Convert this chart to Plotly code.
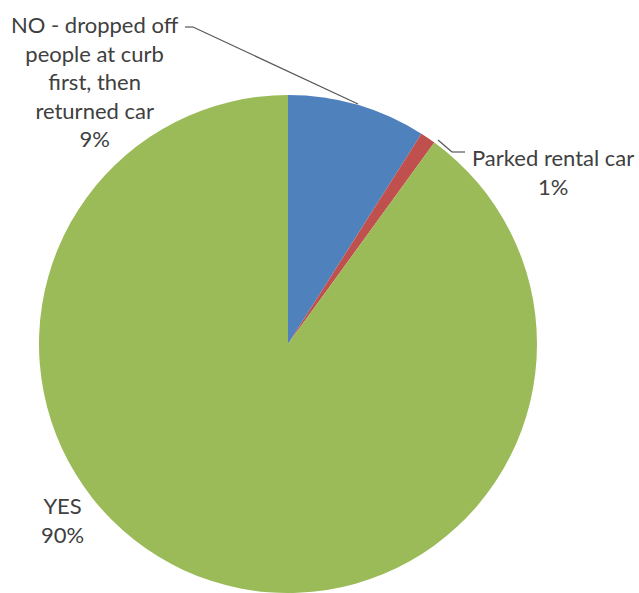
import plotly.graph_objects as go

# Survey answer categories and their shares (percent)
labels = ["NO - dropped off people at curb first, then returned car", "Parked rental car", "YES"]
label_lines = [
    ["NO - dropped off", "people at curb", "first, then", "returned car"],
    ["Parked rental car"],
    ["YES"],
]
values = [9, 1, 90]
colors = ["#4F81BD", "#C0504D", "#9BBB59"]

W, H = 639, 593


def px_x(x):
    return x / W


def px_y(y):
    return 1 - y / H


fig = go.Figure(
    go.Pie(
        labels=labels,
        values=values,
        marker=dict(colors=colors, line=dict(width=0)),
        sort=False,
        direction="clockwise",
        rotation=0,
        textinfo="none",
        hoverinfo="label+percent",
        showlegend=False,
        domain=dict(x=[px_x(39), px_x(537)], y=[px_y(593), px_y(95)]),
    )
)

font = dict(family="Lato, 'Open Sans', sans-serif", size=22, color="#404040")

# Label anchors (pixel position of the text block centre)
anchors = [(95, 81), (553, 172), (63, 520)]
for lines, val, (ax, ay) in zip(label_lines, values, anchors):
    text = "<br>".join(lines + [f"{val}%"])
    fig.add_annotation(
        x=px_x(ax), y=px_y(ay), xref="paper", yref="paper",
        text=text, showarrow=False, font=font, align="center",
        xanchor="center", yanchor="middle",
    )

# Leader lines from labels to slices
leaders = [
    [(185, 27), (193, 27), (358, 104)],
    [(465, 152), (452, 152), (438, 140)],
]
for pts in leaders:
    for (x0, y0), (x1, y1) in zip(pts[:-1], pts[1:]):
        fig.add_shape(
            type="line", xref="paper", yref="paper",
            x0=px_x(x0), y0=px_y(y0), x1=px_x(x1), y1=px_y(y1),
            line=dict(color="#595959", width=1.2),
        )

fig.update_layout(
    width=W, height=H,
    margin=dict(l=0, r=0, t=0, b=0),
    paper_bgcolor="white",
    plot_bgcolor="white",
)

fig.write_html("out.html")
